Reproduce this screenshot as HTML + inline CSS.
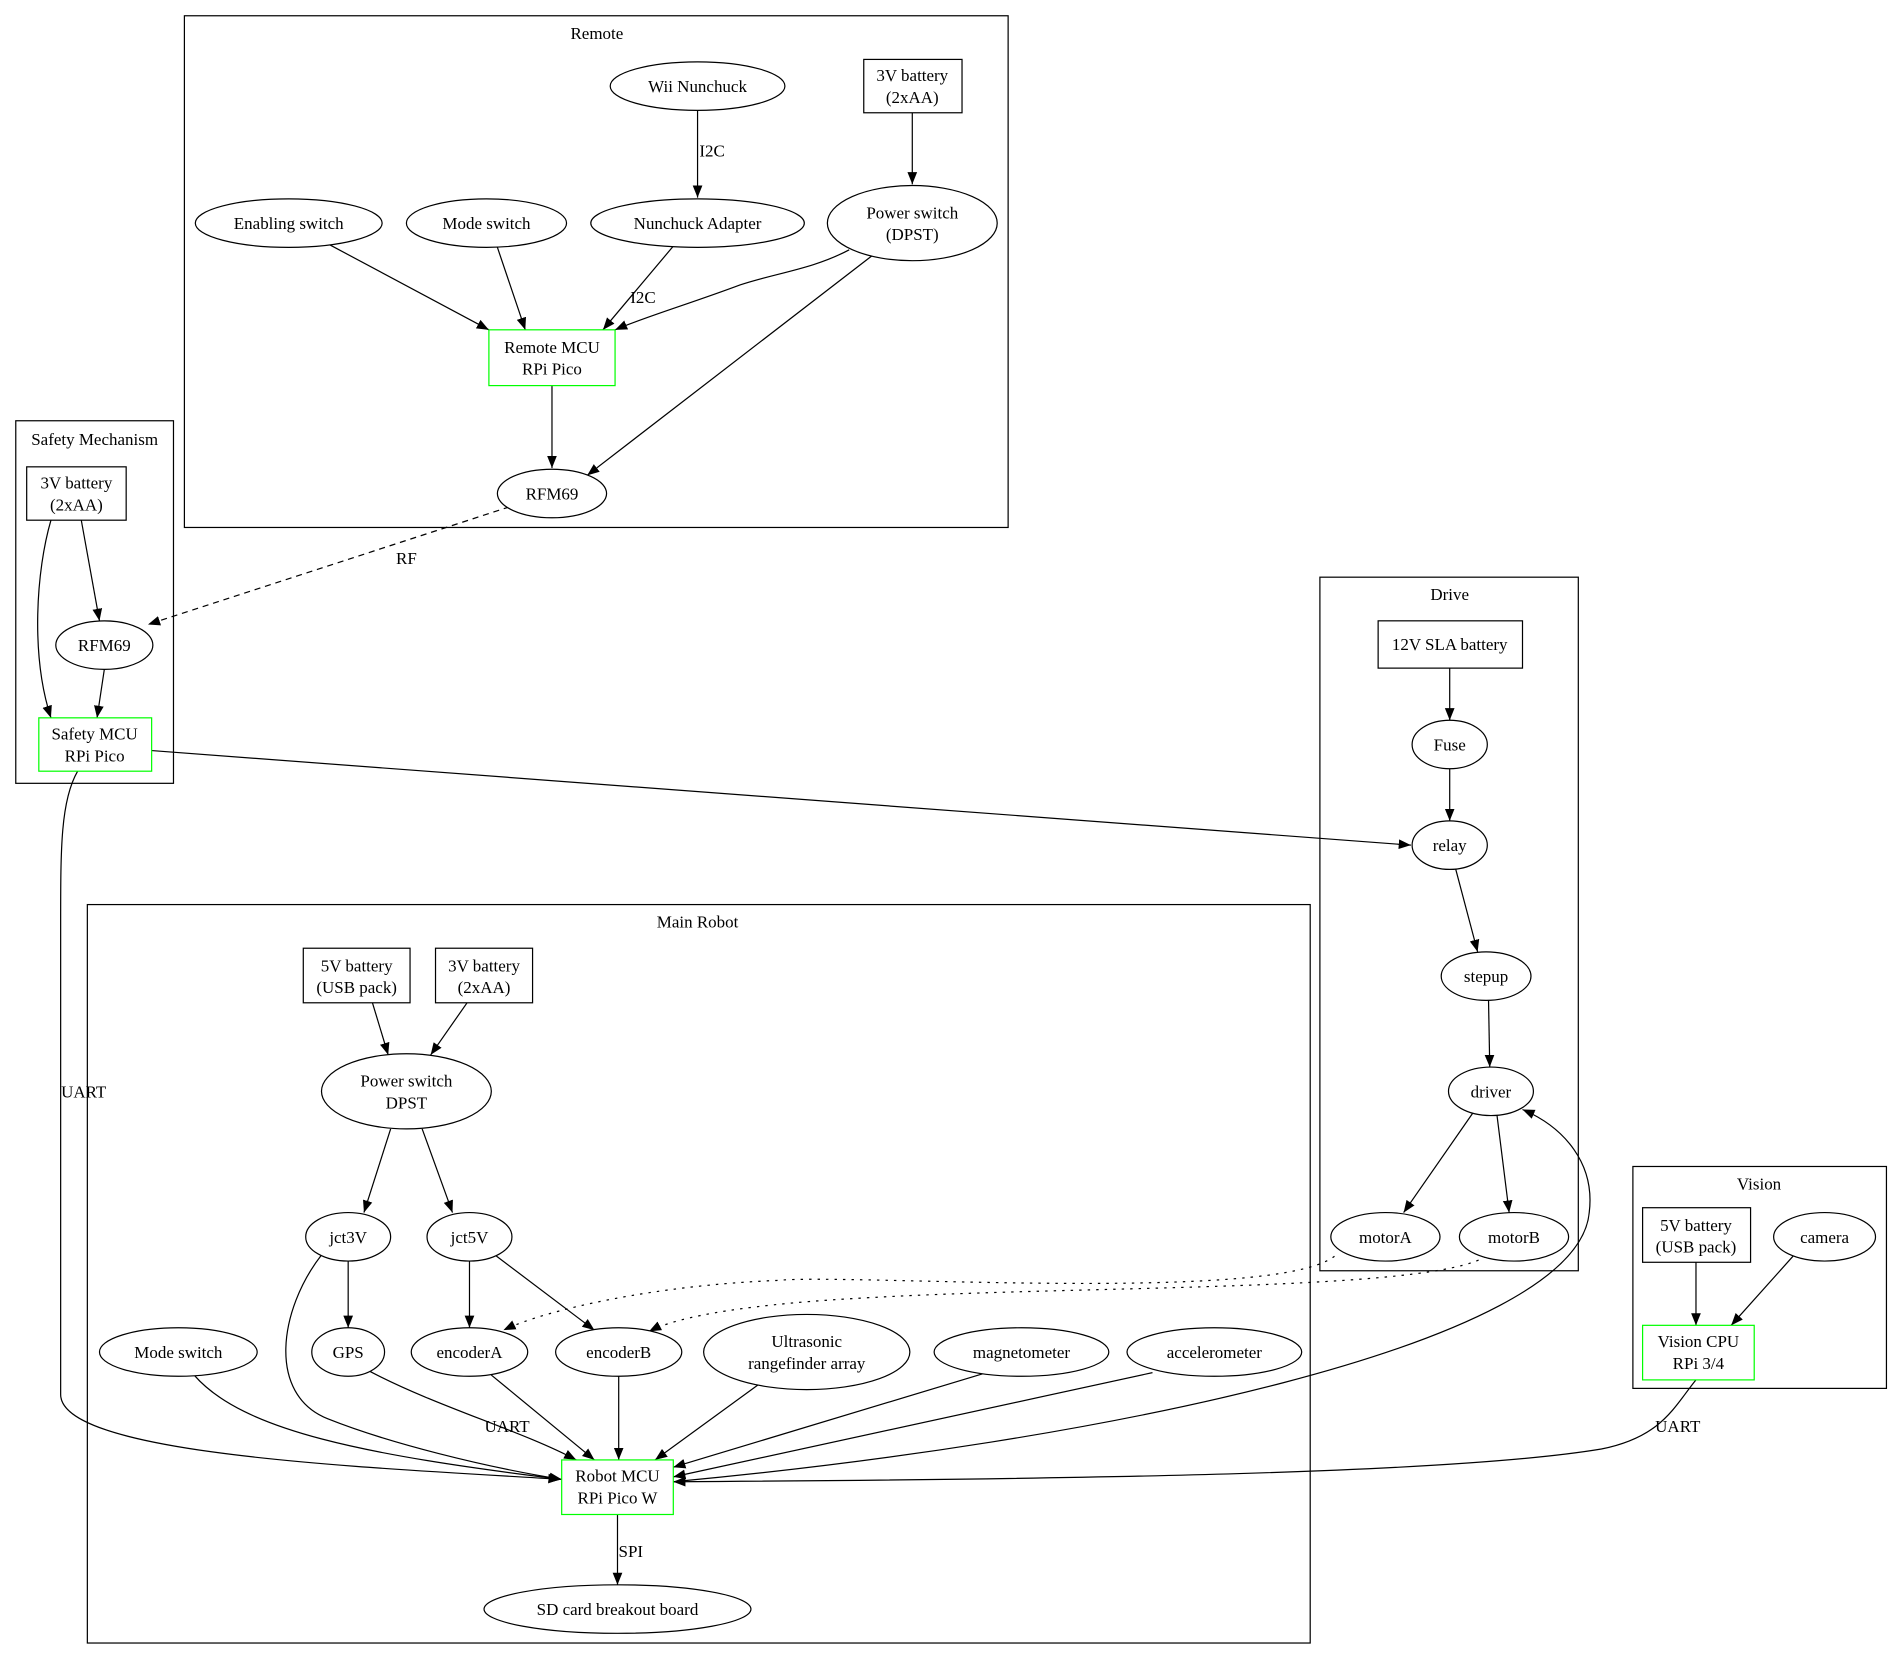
<!DOCTYPE html>
<html><head><meta charset="utf-8"><style>
html,body{margin:0;padding:0;background:#fff}
svg{display:block}
text{font-family:"Liberation Serif",serif;font-size:14px;fill:#000;text-anchor:middle}
.c{fill:none;stroke:#000;stroke-width:1}
.n{fill:#fff;stroke:#000;stroke-width:1}
.g{fill:#fff;stroke:#0f0;stroke-width:1}
.e{fill:none;stroke:#000;stroke-width:1}
</style></head><body>
<svg width="1901" height="1660" viewBox="0 0 1567 1369" preserveAspectRatio="none" xmlns="http://www.w3.org/2000/svg">
<defs><marker id="a" viewBox="0 0 10 10" refX="10" refY="5" markerWidth="10" markerHeight="10" markerUnits="userSpaceOnUse" orient="auto"><path d="M0,1 L10,5 L0,9 z" fill="#000"/></marker></defs>
<rect class="c" x="152" y="13" width="679" height="422"/><text x="492" y="32">Remote</text>
<rect class="c" x="13" y="347" width="130" height="299"/><text x="78" y="367">Safety Mechanism</text>
<rect class="c" x="1088" y="476" width="213" height="572"/><text x="1195" y="495">Drive</text>
<rect class="c" x="1346" y="962" width="209" height="183"/><text x="1450" y="981">Vision</text>
<rect class="c" x="72" y="746" width="1008" height="609"/><text x="575" y="765">Main Robot</text>
<g class="e" marker-end="url(#a)">
<path d="M575,91 L575,163"/>
<path d="M752,93 L752,152"/>
<path d="M272,202 L403,272"/>
<path d="M410,204 L433,272"/>
<path d="M555,203 L497,272"/>
<path d="M700,206 C670,222 640,225 610,235 C570,250 530,262 507,272"/>
<path d="M455,318 L455,386"/>
<path d="M720,210 L484,392"/>
<path d="M67,429 L82,512"/>
<path d="M42,429 C30,470 25,540 42,592"/>
<path d="M86,552 L80,592"/>
<path d="M420,418 L122,515" stroke-dasharray="5,4"/>
<path d="M125,619 L1163,697"/>
<path d="M64,636 C50,660 50,700 50,760 L50,1150 C50,1200 300,1210 462,1220"/>
<path d="M1195,551 L1195,594"/>
<path d="M1195,634 L1195,677"/>
<path d="M1200,717 L1218,785"/>
<path d="M1227,825 L1228,880"/>
<path d="M1214,918 L1157,1000"/>
<path d="M1234,920 L1244,1000"/>
<path d="M555,1222 C900,1190 1300,1110 1310,1000 C1315,960 1290,930 1255,915"/>
<path d="M1398,1041 L1398,1093"/>
<path d="M1478,1036 L1427,1093"/>
<path d="M1398,1138 C1380,1160 1370,1185 1320,1195 C1200,1215 900,1220 555,1222"/>
<path d="M307,827 L320,870"/>
<path d="M385,827 L355,870"/>
<path d="M322,931 L300,1000"/>
<path d="M348,931 L373,1000"/>
<path d="M287,1040 L287,1095"/>
<path d="M387,1040 L387,1095"/>
<path d="M408,1035 L490,1097"/>
<path d="M265,1035 C230,1080 220,1150 270,1170 C320,1190 400,1210 463,1220"/>
<path d="M160,1134 C200,1180 300,1200 463,1220"/>
<path d="M305,1131 C360,1160 430,1180 475,1204"/>
<path d="M405,1134 L490,1204"/>
<path d="M510,1135 L510,1204"/>
<path d="M625,1142 L540,1204"/>
<path d="M810,1133 L555,1210"/>
<path d="M950,1132 L555,1218"/>
<path d="M509,1249 L509,1307"/>
<path d="M1100,1036 C1050,1075 700,1050 640,1056 C540,1060 450,1080 415,1097" stroke-dasharray="2,5"/>
<path d="M1225,1036 C1180,1065 900,1060 720,1070 C620,1075 560,1085 535,1098" stroke-dasharray="2,5"/>
</g>
<text x="587" y="129">I2C</text>
<text x="530" y="250">I2C</text>
<text x="335" y="465">RF</text>
<text x="69" y="905">UART</text>
<text x="418" y="1181">UART</text>
<text x="1383" y="1181">UART</text>
<text x="520" y="1284">SPI</text>
<ellipse class="n" cx="575" cy="71" rx="72" ry="20"/><text x="575" y="76">Wii Nunchuck</text>
<rect class="n" x="712" y="49" width="81" height="44"/><text x="752" y="67">3V battery</text><text x="752" y="85">(2xAA)</text>
<ellipse class="n" cx="238" cy="184" rx="77" ry="20"/><text x="238" y="189">Enabling switch</text>
<ellipse class="n" cx="401" cy="184" rx="66" ry="20"/><text x="401" y="189">Mode switch</text>
<ellipse class="n" cx="575" cy="184" rx="88" ry="20"/><text x="575" y="189">Nunchuck Adapter</text>
<ellipse class="n" cx="752" cy="184" rx="70" ry="31"/><text x="752" y="180">Power switch</text><text x="752" y="198">(DPST)</text>
<rect class="g" x="403" y="272" width="104" height="46"/><text x="455" y="291">Remote MCU</text><text x="455" y="309">RPi Pico</text>
<ellipse class="n" cx="455" cy="407" rx="45" ry="20"/><text x="455" y="412">RFM69</text>
<rect class="n" x="22" y="385" width="82" height="44"/><text x="63" y="403">3V battery</text><text x="63" y="421">(2xAA)</text>
<ellipse class="n" cx="86" cy="532" rx="40" ry="20"/><text x="86" y="537">RFM69</text>
<rect class="g" x="32" y="592" width="93" height="44"/><text x="78" y="610">Safety MCU</text><text x="78" y="628">RPi Pico</text>
<rect class="n" x="1136" y="512" width="119" height="39"/><text x="1195" y="536">12V SLA battery</text>
<ellipse class="n" cx="1195" cy="614" rx="31" ry="20"/><text x="1195" y="619">Fuse</text>
<ellipse class="n" cx="1195" cy="697" rx="31" ry="20"/><text x="1195" y="702">relay</text>
<ellipse class="n" cx="1225" cy="805" rx="37" ry="20"/><text x="1225" y="810">stepup</text>
<ellipse class="n" cx="1229" cy="900" rx="35" ry="20"/><text x="1229" y="905">driver</text>
<ellipse class="n" cx="1142" cy="1020" rx="45" ry="20"/><text x="1142" y="1025">motorA</text>
<ellipse class="n" cx="1248" cy="1020" rx="45" ry="20"/><text x="1248" y="1025">motorB</text>
<rect class="n" x="1354" y="996" width="89" height="45"/><text x="1398" y="1015">5V battery</text><text x="1398" y="1033">(USB pack)</text>
<ellipse class="n" cx="1504" cy="1020" rx="42" ry="20"/><text x="1504" y="1025">camera</text>
<rect class="g" x="1354" y="1093" width="92" height="45"/><text x="1400" y="1111">Vision CPU</text><text x="1400" y="1129">RPi 3/4</text>
<rect class="n" x="250" y="782" width="88" height="45"/><text x="294" y="801">5V battery</text><text x="294" y="819">(USB pack)</text>
<rect class="n" x="359" y="782" width="80" height="45"/><text x="399" y="801">3V battery</text><text x="399" y="819">(2xAA)</text>
<ellipse class="n" cx="335" cy="900" rx="70" ry="31"/><text x="335" y="896">Power switch</text><text x="335" y="914">DPST</text>
<ellipse class="n" cx="287" cy="1020" rx="35" ry="20"/><text x="287" y="1025">jct3V</text>
<ellipse class="n" cx="387" cy="1020" rx="35" ry="20"/><text x="387" y="1025">jct5V</text>
<ellipse class="n" cx="147" cy="1115" rx="65" ry="20"/><text x="147" y="1120">Mode switch</text>
<ellipse class="n" cx="287" cy="1115" rx="30" ry="20"/><text x="287" y="1120">GPS</text>
<ellipse class="n" cx="387" cy="1115" rx="48" ry="20"/><text x="387" y="1120">encoderA</text>
<ellipse class="n" cx="510" cy="1115" rx="52" ry="20"/><text x="510" y="1120">encoderB</text>
<ellipse class="n" cx="665" cy="1115" rx="85" ry="31"/><text x="665" y="1111">Ultrasonic</text><text x="665" y="1129">rangefinder array</text>
<ellipse class="n" cx="842" cy="1115" rx="72" ry="20"/><text x="842" y="1120">magnetometer</text>
<ellipse class="n" cx="1001" cy="1115" rx="72" ry="20"/><text x="1001" y="1120">accelerometer</text>
<rect class="g" x="463" y="1204" width="92" height="45"/><text x="509" y="1222">Robot MCU</text><text x="509" y="1240">RPi Pico W</text>
<ellipse class="n" cx="509" cy="1327" rx="110" ry="20"/><text x="509" y="1332">SD card breakout board</text>
</svg>
</body></html>
